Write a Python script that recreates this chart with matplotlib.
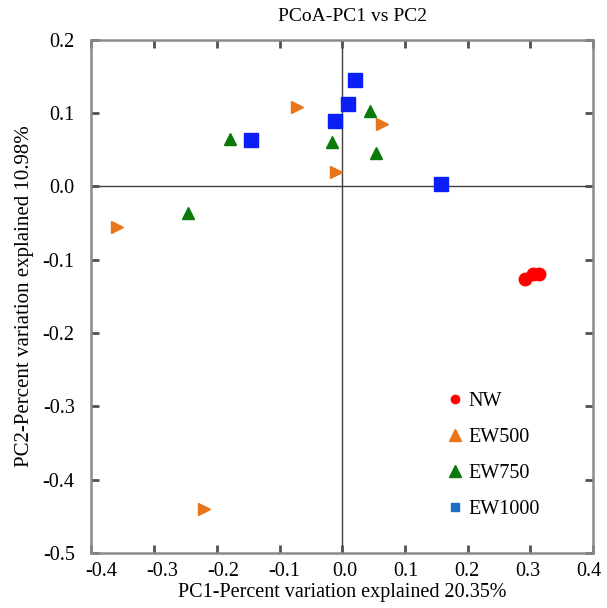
"""PCoA scatter: PC1 vs PC2 for NW / EW500 / EW750 / EW1000 groups."""
import matplotlib
matplotlib.use("Agg")
import matplotlib.pyplot as plt
import matplotlib.transforms as mtransforms
from matplotlib.lines import Line2D

plt.rcParams["font.family"] = ["Liberation Serif", "DejaVu Serif"]

# sample coordinates
nw_pc1 = [0.291, 0.304, 0.314]
nw_pc2 = [-0.126, -0.120, -0.119]
ew500_pc1 = [-0.072, 0.064, -0.010, -0.359, -0.220]
ew500_pc2 = [0.108, 0.085, 0.019, -0.056, -0.439]
ew750_pc1 = [-0.179, -0.016, 0.044, 0.054, -0.246]
ew750_pc2 = [0.065, 0.061, 0.103, 0.046, -0.036]
ew1000_pc1 = [0.020, 0.009, -0.011, -0.146, 0.157]
ew1000_pc2 = [0.145, 0.112, 0.089, 0.063, 0.003]

group_labels = ["NW", "EW500", "EW750", "EW1000"]
x_ticks = [-0.4, -0.3, -0.2, -0.1, 0.0, 0.1, 0.2, 0.3, 0.4]
y_ticks = [0.2, 0.1, 0.0, -0.1, -0.2, -0.3, -0.4, -0.5]

fig = plt.figure(figsize=(6.07, 6.08), dpi=100)
ax = fig.add_axes([0.1506, 0.09, 0.8264, 0.845])

ax.axhline(0, color="#404040", lw=1.0, zorder=1)
ax.axvline(0, color="#404040", lw=1.0, zorder=1)

ax.plot(nw_pc1, nw_pc2, "o", color="#ff0000", ms=9, ls="none", zorder=3)
ax.plot(ew500_pc1, ew500_pc2, ">", color="#e8751a", ms=9, ls="none", zorder=3)
ax.plot(ew750_pc1, ew750_pc2, "^", color="#0b7a0b", ms=9, ls="none", zorder=3)
ax.plot(ew1000_pc1, ew1000_pc2, "s", color="#0a1ef5", ms=9.5, ls="none", zorder=3)

ax.set_xlim(-0.4, 0.4)
ax.set_ylim(-0.5, 0.2)
ax.set_xticks(x_ticks)
ax.set_xticklabels([f"{v:.1f}" for v in x_ticks])
ax.set_yticks(y_ticks)
ax.set_yticklabels([f"{v:.1f}" for v in y_ticks])
ax.tick_params(direction="in", length=6, width=2, color="#505050",
               labelsize=14.5, top=True, right=True, pad=6)
ax.tick_params(axis="y", pad=12)
for sp in ax.spines.values():
    sp.set_color("#8a8a8a")
    sp.set_linewidth(1.8)

# x tick labels in the original drift from right of their ticks to left of them
labels = ax.get_xticklabels()
for i, lbl in enumerate(labels):
    dx = (10 - 14 * i / (len(labels) - 1)) / 100
    lbl.set_transform(lbl.get_transform()
                      + mtransforms.ScaledTranslation(dx, 0, fig.dpi_scale_trans))

ax.set_title("PCoA-PC1 vs PC2", fontsize=14, pad=13, x=0.52)
ax.set_xlabel("PC1-Percent variation explained 20.35%", fontsize=14.5, labelpad=2)
ax.set_ylabel("PC2-Percent variation explained 10.98%", fontsize=15, labelpad=6)

handles = [
    Line2D([], [], marker="o", color="#ff0000", ms=6, ls="none"),
    Line2D([], [], marker="^", color="#e8751a", ms=9, ls="none"),
    Line2D([], [], marker="^", color="#0b7a0b", ms=9, ls="none"),
    Line2D([], [], marker="s", color="#1e6fc4", ms=6, ls="none"),
]
ax.legend(handles, group_labels, loc="upper left", bbox_to_anchor=(0.675, 0.35),
          frameon=False, fontsize=14.5, handlelength=0.7, handletextpad=0.3,
          labelspacing=0.85)

fig.savefig("out.png", dpi=100)
